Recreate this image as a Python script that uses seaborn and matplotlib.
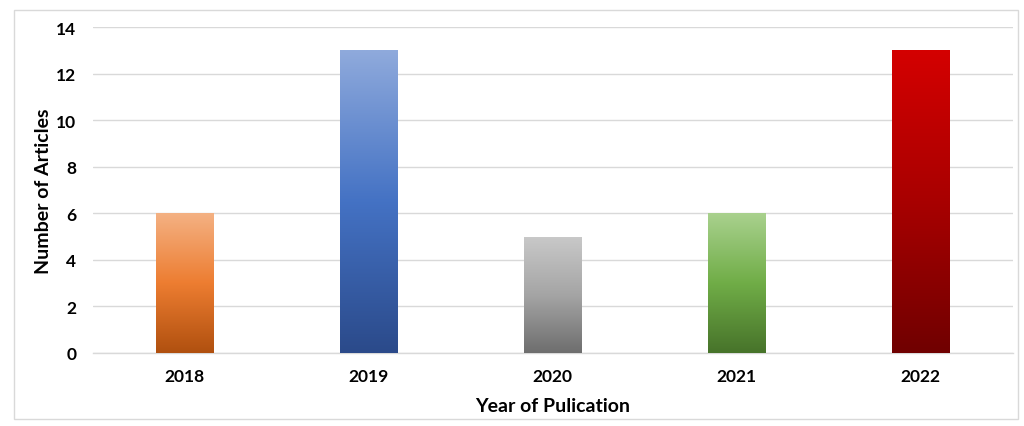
import numpy as np
import pandas as pd
import matplotlib
matplotlib.use("Agg")
import matplotlib.pyplot as plt
from matplotlib.colors import LinearSegmentedColormap
from matplotlib.patches import Rectangle
import seaborn as sns

years = ["2018", "2019", "2020", "2021", "2022"]
articles = [6, 13, 5, 6, 13]
# gradient stops: top, middle, bottom
grad_top = ["#F4B183", "#8FAADC", "#C9C9C9", "#A9D18E", "#D40000"]
grad_mid = ["#ED7D31", "#4472C4", "#A5A5A5", "#70AD47", "#A80000"]
grad_bot = ["#B0500F", "#2B4A8A", "#6E6E6E", "#47732A", "#700000"]

sns.set_theme(style="white")
plt.rcParams['font.family'] = ['Lato', 'DejaVu Sans']

df = pd.DataFrame({"Year": years, "Articles": articles})

fig = plt.figure(figsize=(10.24, 4.27), dpi=100)
ax = fig.add_axes([0.0908, 0.171, 0.898, 0.763])
sns.barplot(data=df, x="Year", y="Articles", ax=ax, width=0.315,
            color="#ffffff", edgecolor="none", zorder=3)

ax.set_ylim(0, 14)
ax.set_yticks(np.arange(0, 15, 2))
ax.grid(axis="y", color="#D9D9D9", linewidth=1.0, zorder=0)
ax.set_axisbelow(True)
for s in ["top", "right", "left"]:
    ax.spines[s].set_visible(False)
ax.spines["bottom"].set_color("#D9D9D9")
ax.spines["bottom"].set_linewidth(1.0)

for i, p in enumerate(ax.patches):
    x0, y0 = p.get_x(), p.get_y()
    w, h = p.get_width(), p.get_height()
    cmap = LinearSegmentedColormap.from_list(
        f"g{i}", [grad_bot[i], grad_mid[i], grad_top[i]])
    grad = np.linspace(0, 1, 256).reshape(-1, 1)
    im = ax.imshow(grad, cmap=cmap, origin="lower", aspect="auto",
                   extent=[x0, x0 + w, y0, y0 + h], zorder=3)
    im.set_clip_path(p)
ax.set_xlim(-0.5, 4.5)
ax.set_ylim(0, 14)

ax.tick_params(axis="both", length=0, labelsize=12.5, colors="black")
ax.tick_params(axis="y", pad=12)
ax.tick_params(axis="x", pad=11)
for lab in ax.get_xticklabels() + ax.get_yticklabels():
    lab.set_fontweight("bold")
ax.set_xlabel("Year of Pulication", fontsize=14, fontweight="bold",
              labelpad=9, color="black")
ax.set_ylabel("Number of Articles", fontsize=14, fontweight="bold",
              labelpad=3, color="black")

fig.patches.append(Rectangle((14 / 1024, 1 - 420 / 427), (1018 - 14) / 1024,
                             (420 - 11) / 427, transform=fig.transFigure,
                             fill=False, edgecolor="#D9D9D9", linewidth=1.0))

fig.savefig("out.png", dpi=100)
